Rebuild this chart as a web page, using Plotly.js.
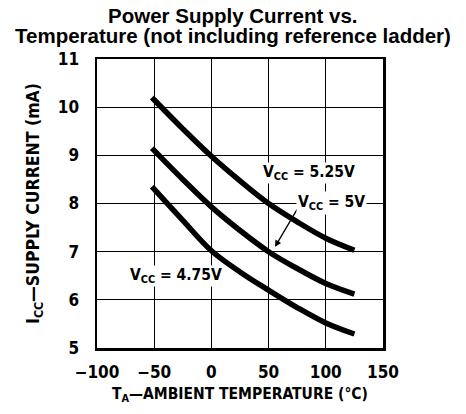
<!DOCTYPE html>
<html><head><meta charset="utf-8">
<script src="https://cdn.plot.ly/plotly-3.0.1.min.js"></script>
<style>body{margin:0;background:#fff}#c{width:466px;height:414px}</style>
</head><body><div id="c"></div>
<script>
const temps = [-52, -25, 0, 25, 50, 75, 100, 125];
const icc525 = [10.2, 9.55, 8.98, 8.47, 8.0, 7.62, 7.28, 7.03];
const icc500 = [9.15, 8.5, 7.93, 7.44, 7.0, 6.65, 6.34, 6.12];
const icc475 = [8.35, 7.65, 7.02, 6.58, 6.2, 5.84, 5.52, 5.29];
const xTickVals = [-100, -50, 0, 50, 100, 150];
const xTickText = ['\u2212100', '\u221250', '0', '50', '100', '150'];
const yTickVals = [5, 6, 7, 8, 9, 10, 11];
const titleLines = ['Power Supply Current vs.', 'Temperature (not including reference ladder)'];

const lineStyle = {color: '#000', width: 5.5, shape: 'spline', smoothing: 1};
const traces = [icc525, icc500, icc475].map(v => ({
  x: temps, y: v, mode: 'lines', line: lineStyle, hoverinfo: 'skip'
}));
const narrow = '"DejaVu Sans Condensed", "DejaVu Sans", sans-serif';
const tickFont = {family: narrow, size: 17, color: '#000', weight: 'bold'};
const annFont = {family: narrow, size: 15.5, color: '#000', weight: 'bold'};
const titleFont = {family: '"Liberation Sans", Arial, sans-serif', size: 20.5, color: '#000', weight: 'bold'};

const layout = {
  width: 466, height: 414,
  margin: {l: 97, r: 83, t: 59, b: 66},
  paper_bgcolor: '#fff', plot_bgcolor: '#fff',
  showlegend: false,
  xaxis: {range: [-100, 150], tickvals: xTickVals, ticktext: xTickText, showgrid: true,
    gridcolor: '#000', gridwidth: 1.3, zeroline: false, showline: true, linecolor: '#000', linewidth: 2.5,
    mirror: true, ticks: '', tickfont: tickFont, ticklabelstandoff: 7,
    title: {text: 'T<sub>A</sub>\u2014AMBIENT TEMPERATURE (\u00b0C)',
      font: {family: narrow, size: 15.5, color: '#000', weight: 'bold'}, standoff: 7}},
  yaxis: {range: [5, 11], tickvals: yTickVals, showgrid: true,
    gridcolor: '#000', gridwidth: 1.3, zeroline: false, showline: true, linecolor: '#000', linewidth: 2.5,
    mirror: true, ticks: '', tickfont: tickFont, ticklabelstandoff: 12,
    title: {text: 'I<sub>CC</sub>\u2014SUPPLY CURRENT (mA)',
      font: {family: narrow, size: 17.5, color: '#000', weight: 'bold'}, standoff: 14}},
  annotations: [
    {xref: 'paper', yref: 'paper', x: 0.4755, y: 1 + (59 - 16) / 289, text: titleLines[0],
      showarrow: false, font: titleFont, xanchor: 'center', yanchor: 'middle'},
    {xref: 'paper', yref: 'paper', x: 0.4755, y: 1 + (59 - 36) / 289, text: titleLines[1],
      showarrow: false, font: titleFont, xanchor: 'center', yanchor: 'middle'},
    {x: 85.3, y: 8.63, text: 'V<sub>CC</sub> = 5.25V', showarrow: false, font: annFont,
      xanchor: 'center', yanchor: 'middle', bgcolor: '#fff', borderpad: 0},
    {x: 55.6, y: 7.1, ax: 75.7, ay: 7.91, axref: 'x', ayref: 'y', showarrow: true,
      arrowhead: 2, arrowsize: 1, arrowwidth: 1.3, arrowcolor: '#000', text: ''},
    {x: 105.4, y: 8.01, text: 'V<sub>CC</sub> = 5V', showarrow: false, font: annFont,
      xanchor: 'center', yanchor: 'middle', bgcolor: '#fff', borderpad: 1},
    {x: -31, y: 6.5, text: 'V<sub>CC</sub> = 4.75V', showarrow: false, font: annFont,
      xanchor: 'center', yanchor: 'middle', bgcolor: '#fff', borderpad: 0}
  ]
};
Plotly.newPlot('c', traces, layout, {displayModeBar: false, staticPlot: true});
</script></body></html>
